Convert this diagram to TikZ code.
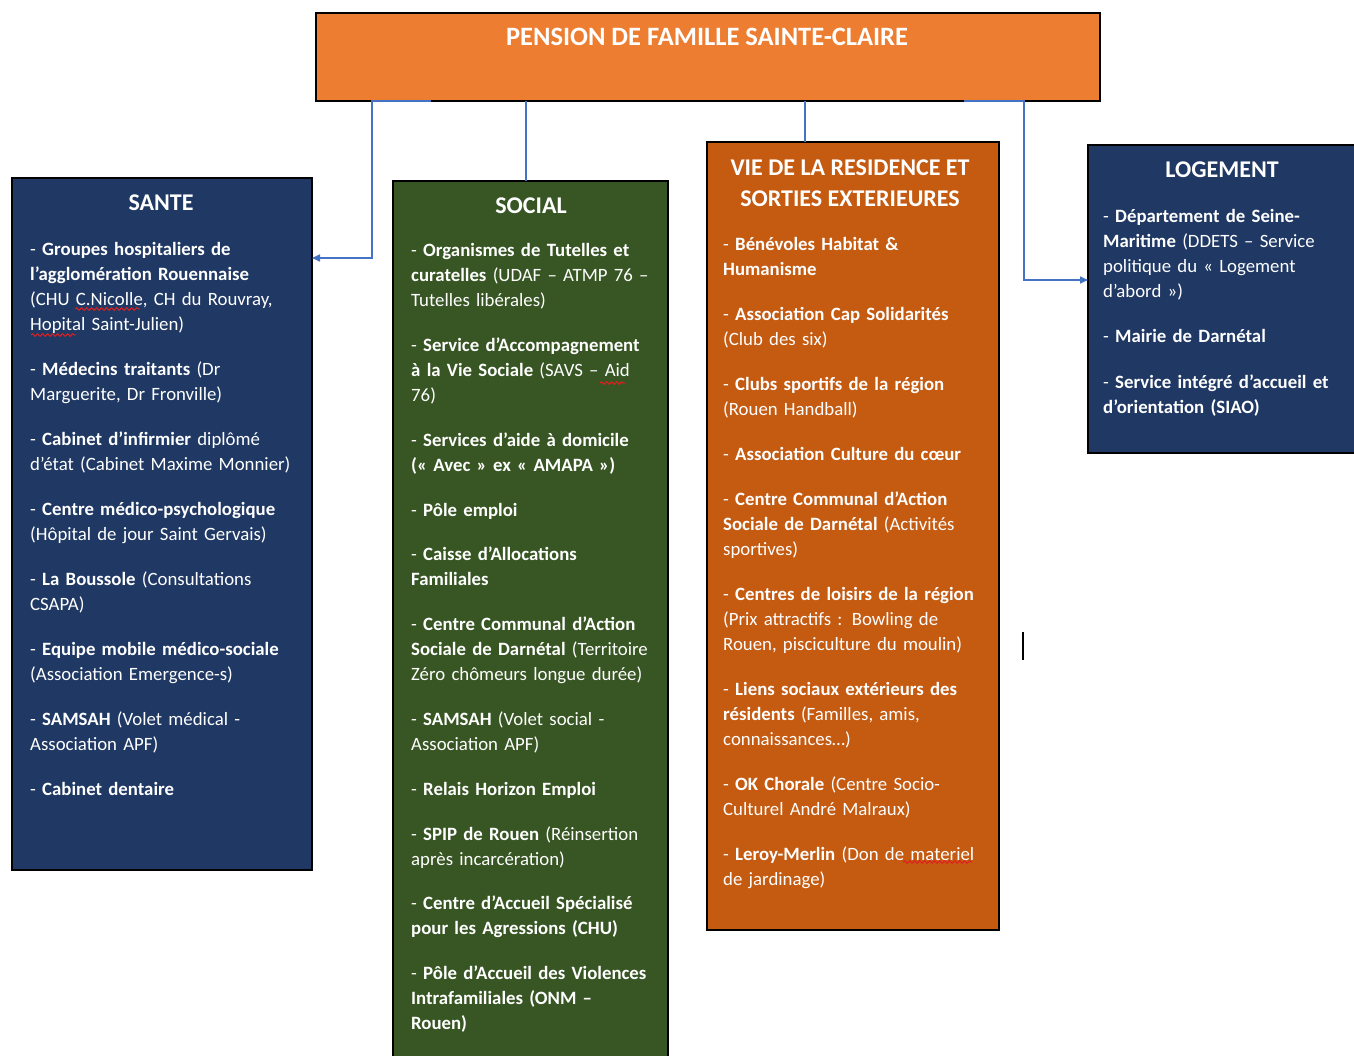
\documentclass[tikz,border=0pt]{standalone}
\usepackage{fontspec}
\setmainfont{Carlito}
\usetikzlibrary{arrows.meta,decorations.pathmorphing}
\definecolor{topC}{HTML}{ED7D31}
\definecolor{blueBox}{HTML}{1F3864}
\definecolor{greenBox}{HTML}{375623}
\definecolor{orangeBox}{HTML}{C55A11}
\definecolor{connC}{HTML}{4472C4}
\definecolor{spellC}{HTML}{E02020}
\begin{document}
\begin{tikzpicture}[x=1pt,y=-1pt,
  box/.style={draw=black, line width=1.6pt, anchor=north west, inner sep=0pt, outer sep=0pt},
  content/.style={anchor=north west, inner sep=0pt, text=white, text width=320pt, align=left,
     font=\fontsize{18.8}{25}\selectfont},
  ttl/.style={text=white, inner sep=0pt, align=center, font=\fontsize{24}{31}\selectfont\bfseries},
  conn/.style={draw=connC, line width=1.6pt},
  tip/.style={-{Triangle[length=8pt,width=7pt]}},
  spell/.style={draw=spellC, line width=1pt, decorate, decoration={snake, amplitude=1.3pt, segment length=5pt}}
]
\useasboundingbox (0,0) rectangle (1354,1056);
\clip (0,0) rectangle (1354,1056);

% boxes
\node[box, fill=topC, line width=2.4pt, minimum width=784pt, minimum height=88pt] (top) at (316,13) {};
\node[box, fill=blueBox, minimum width=300pt, minimum height=692pt] (sante) at (12,178) {};
\node[box, fill=greenBox, minimum width=275pt, minimum height=900pt] (social) at (393,181) {};
\node[box, fill=orangeBox, minimum width=292pt, minimum height=788pt] (vie) at (707,142) {};
\node[box, fill=blueBox, minimum width=300pt, minimum height=308pt] (logement) at (1088,145) {};

% titles
\node[ttl, font=\fontsize{26.5}{31}\selectfont\bfseries] (ttop) at (707,37) {PENSION DE FAMILLE SAINTE-CLAIRE};
\node[ttl] (tsante) at (161,203) {SANTE};
\node[ttl] (tsocial) at (531,206) {SOCIAL};
\node[ttl] (tvie) at (850,183.5) {VIE DE LA RESIDENCE ET\\SORTIES EXTERIEURES};
\node[ttl] (tlogement) at (1222,170) {LOGEMENT};

% contents
\node[content] (csante) at (30,238) {\setlength{\parskip}{20pt}%
\strut- \textbf{Groupes hospitaliers de}\\\textbf{l'agglomération Rouennaise}\\(CHU C.Nicolle, CH du Rouvray,\\Hopital Saint-Julien)\par
- \textbf{Médecins traitants} (Dr\\Marguerite, Dr Fronville)\par
- \textbf{Cabinet d'infirmier} diplômé\\d'état (Cabinet Maxime Monnier)\par
- \textbf{Centre médico-psychologique}\\(Hôpital de jour Saint Gervais)\par
- \textbf{La Boussole} (Consultations\\CSAPA)\par
- \textbf{Equipe mobile médico-sociale}\\(Association Emergence-s)\par
- \textbf{SAMSAH} (Volet médical -\\Association APF)\par
- \textbf{Cabinet dentaire}};

\node[content] (csocial) at (411,239) {\setlength{\parskip}{19.8pt}%
\strut- \textbf{Organismes de Tutelles et}\\\textbf{curatelles} (UDAF – ATMP 76 –\\Tutelles libérales)\par
- \textbf{Service d'Accompagnement}\\\textbf{à la Vie Sociale} (SAVS – Aid\\76)\par
- \textbf{Services d'aide à domicile}\\\textbf{(« Avec » ex « AMAPA »)}\par
- \textbf{Pôle emploi}\par
- \textbf{Caisse d'Allocations}\\\textbf{Familiales}\par
- \textbf{Centre Communal d'Action}\\\textbf{Sociale de Darnétal} (Territoire\\Zéro chômeurs longue durée)\par
- \textbf{SAMSAH} (Volet social -\\Association APF)\par
- \textbf{Relais Horizon Emploi}\par
- \textbf{SPIP de Rouen} (Réinsertion\\après incarcération)\par
- \textbf{Centre d'Accueil Spécialisé}\\\textbf{pour les Agressions (CHU)}\par
- \textbf{Pôle d'Accueil des Violences}\\\textbf{Intrafamiliales (ONM –}\\\textbf{Rouen)}};

\node[content] (cvie) at (723,232.5) {\setlength{\parskip}{20pt}%
\strut- \textbf{Bénévoles Habitat \&}\\\textbf{Humanisme}\par
- \textbf{Association Cap Solidarités}\\(Club des six)\par
- \textbf{Clubs sportifs de la région}\\(Rouen Handball)\par
- \textbf{Association Culture du cœur}\par
- \textbf{Centre Communal d'Action}\\\textbf{Sociale de Darnétal} (Activités\\sportives)\par
- \textbf{Centres de loisirs de la région}\\(Prix attractifs : Bowling de\\Rouen, pisciculture du moulin)\par
- \textbf{Liens sociaux extérieurs des}\\\textbf{résidents} (Familles, amis,\\connaissances…)\par
- \textbf{OK Chorale} (Centre Socio-\\Culturel André Malraux)\par
- \textbf{Leroy-Merlin} (Don de materiel\\de jardinage)};

\node[content] (clogement) at (1103,204.5) {\setlength{\parskip}{20.5pt}%
\strut- \textbf{Département de Seine-}\\\textbf{Maritime} (DDETS – Service\\politique du « Logement\\d'abord »)\par
- \textbf{Mairie de Darnétal}\par
- \textbf{Service intégré d'accueil et}\\\textbf{d'orientation (SIAO)}};

% connectors
\draw[conn, tip] ([xshift=115pt]top.south west) -- ([xshift=56pt]top.south west) |- ([yshift=-80pt]sante.north east);
\draw[conn] ([xshift=-4.5pt]social.north) -- ([xshift=-4.5pt]social.north |- top.south);
\draw[conn] ([xshift=-48pt]vie.north) -- ([xshift=-48pt]vie.north |- top.south);
\draw[conn, tip] ([xshift=-136pt]top.south east) -- ([xshift=-76pt]top.south east) |- ([yshift=-135pt]logement.north west);

% spell-check marks and text cursor
\draw[spell] (75,309) -- (140,309);
\draw[spell] (31,335) -- (76,335);
\draw[spell] (600,383) -- (625,383);
\draw[spell] (903,862) -- (972,862);
\draw[line width=1.5pt] (1023,632) -- (1023,660);
\end{tikzpicture}
\end{document}
